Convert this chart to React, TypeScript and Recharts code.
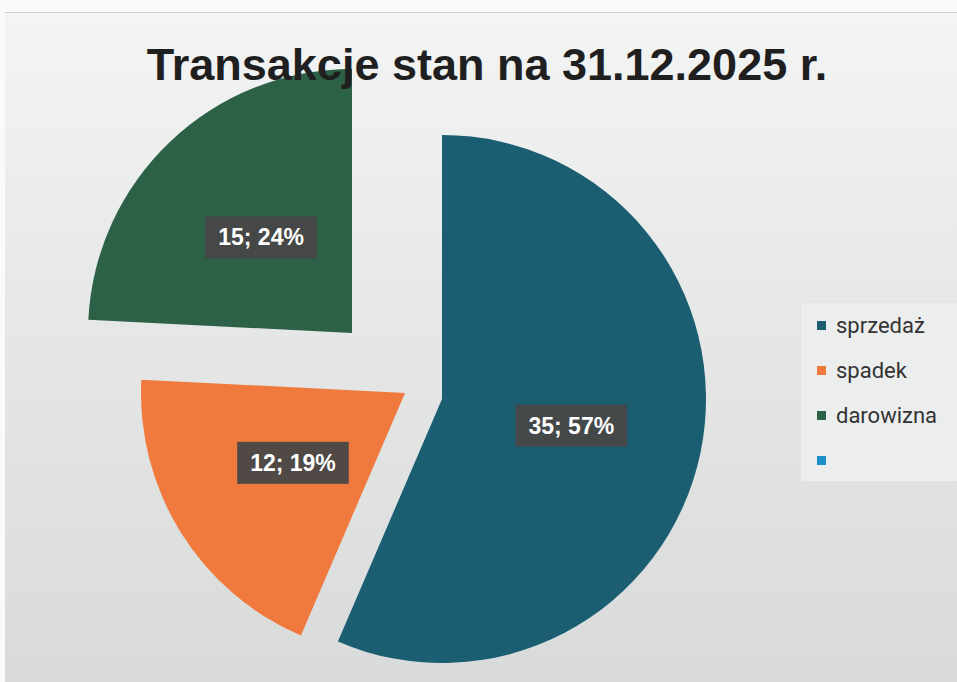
import React from 'react';
import { PieChart, Pie, Cell, Legend } from 'recharts';

const CATEGORIES = ['sprzedaż', 'spadek', 'darowizna'];
const VALUES = [35, 12, 15];
// percentages as printed on the slices
const PERCENT_LABELS = [57, 19, 24];
const COLORS = ['#1c5e71', '#f07a3e', '#2c6047'];
const LEGEND_LABELS = ['sprzedaż', 'spadek', 'darowizna', ''];
const LEGEND_COLORS = ['#1c5e71', '#f07a3e', '#2c6047', '#1b8fca'];
const TITLE = 'Transakcje stan na 31.12.2025 r.';

// each slice is pulled out of the pie, so each one gets its own centre
const SLICE_CENTERS = [
  { x: 442, y: 399 },
  { x: 405, y: 393 },
  { x: 352, y: 333 },
];
const RADIUS = 264;

const data = CATEGORIES.map((name, i) => ({ name, value: VALUES[i], pct: PERCENT_LABELS[i] }));

const RAD = Math.PI / 180;

const makeLabel = (own: number) => (props: any) => {
  if (props.index !== own) return null;
  const r = props.outerRadius * 0.5;
  const x = props.cx + r * Math.cos(-props.midAngle * RAD);
  const y = props.cy + r * Math.sin(-props.midAngle * RAD);
  const text = `${props.value}; ${props.payload.pct}%`;
  const w = text.length * 12.8 + 22;
  return (
    <g>
      <rect x={x - w / 2} y={y - 21} width={w} height={42} fill="#474747" fillOpacity={0.95} />
      <text
        x={x}
        y={y}
        textAnchor="middle"
        dominantBaseline="central"
        fill="#ffffff"
        fontSize={23}
        fontWeight={700}
        fontFamily="'Liberation Sans', Arial, sans-serif"
      >
        {text}
      </text>
    </g>
  );
};

const LegendBox = () => (
  <div style={{ fontFamily: 'Roboto, sans-serif', fontSize: 22, color: '#333' }}>
    {LEGEND_LABELS.map((label, i) => (
      <div key={i} style={{ height: 45, display: 'flex', alignItems: 'center', paddingLeft: 16 }}>
        <span style={{ width: 9, height: 9, background: LEGEND_COLORS[i], marginRight: 10, display: 'inline-block' }} />
        <span>{label}</span>
      </div>
    ))}
  </div>
);

export default function App() {
  return (
    <div style={{ position: 'fixed', left: 0, top: 0, width: 957, height: 682, background: '#fafafa', overflow: 'hidden' }}>
      <div
        style={{
          position: 'absolute',
          left: 5,
          top: 12,
          width: 952,
          height: 670,
          background: 'linear-gradient(180deg, #f3f4f4 0%, #e6e8e7 45%, #d8dbda 100%)',
          borderTop: '1px solid #cfd1d1',
        }}
      />
      <div style={{ position: 'absolute', left: 0, top: 0 }}>
        <PieChart width={957} height={682} margin={{ top: 0, right: 0, bottom: 0, left: 0 }}>
          {SLICE_CENTERS.map((c, idx) => (
            <Pie
              key={idx}
              data={data}
              dataKey="value"
              nameKey="name"
              cx={c.x}
              cy={c.y}
              outerRadius={RADIUS}
              startAngle={90}
              endAngle={-270}
              stroke="none"
              label={makeLabel(idx)}
              labelLine={false}
              isAnimationActive={false}
            >
              {data.map((_, i) => (
                <Cell key={`cell-${i}`} fill={i === idx ? COLORS[i] : 'transparent'} stroke="none" />
              ))}
            </Pie>
          ))}
          <Legend
            layout="vertical"
            align="right"
            verticalAlign="top"
            content={<LegendBox />}
            wrapperStyle={{
              left: 800,
              top: 302,
              width: 165,
              height: 178,
              background: '#eceeed',
              border: '1px solid #e2e4e3',
            }}
          />
        </PieChart>
      </div>
      <div
        style={{
          position: 'absolute',
          left: 0,
          top: 42,
          width: 974,
          textAlign: 'center',
          fontFamily: "'Liberation Sans', Arial, sans-serif",
          fontWeight: 700,
          fontSize: 45,
          lineHeight: '45px',
          color: '#1f1f1f',
        }}
      >
        {TITLE}
      </div>
    </div>
  );
}
